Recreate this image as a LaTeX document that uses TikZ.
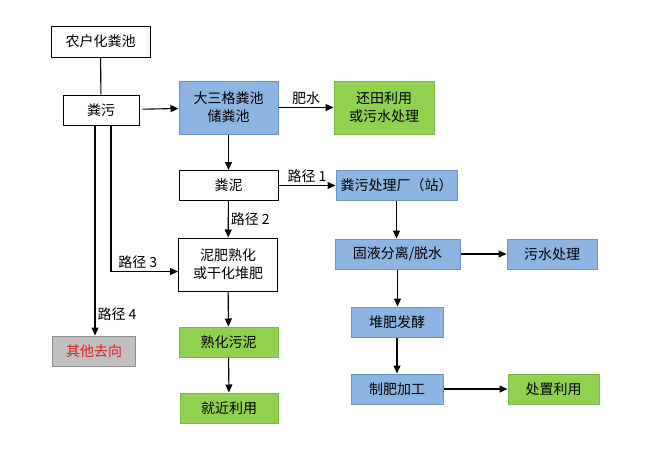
\documentclass[tikz,border=0pt]{standalone}
\usepackage{fontspec}
\setmainfont{Noto Sans CJK SC}
\usetikzlibrary{arrows.meta}
\definecolor{bluefill}{RGB}{142,180,226}
\definecolor{blueline}{RGB}{108,146,200}
\definecolor{greenfill}{RGB}{146,208,80}
\definecolor{greenline}{RGB}{122,186,66}
\definecolor{grayfill}{RGB}{192,192,192}
\definecolor{grayline}{RGB}{140,140,140}
\definecolor{redtext}{RGB}{224,30,30}
\tikzset{
  box/.style={draw, minimum height=30pt, inner sep=0pt, align=center, font=\fontsize{14}{18}\selectfont, line width=1pt},
  bluebox/.style={box, fill=bluefill, draw=blueline},
  greenbox/.style={box, fill=greenfill, draw=greenline},
  graybox/.style={box, fill=grayfill, draw=grayline, text=redtext},
  lbl/.style={font=\fontsize{14}{16}\selectfont, inner sep=2pt}
}
\begin{document}
\begin{tikzpicture}[x=1pt, y=-1pt, >={Triangle[length=8pt,width=7pt]}, line width=1.1pt]
\useasboundingbox (0,0) rectangle (656,453);

\node [box, minimum width=99pt, minimum height=31pt] (nh) at (100.5,41.5) {农户化粪池};
\node [box, minimum width=76pt] (fw) at (101,110) {粪污};
\node [bluebox, minimum width=99pt, minimum height=53pt] (dsg) at (228.5,107.5) {大三格粪池\\储粪池};
\node [greenbox, minimum width=100pt, minimum height=53pt] (ht) at (384,107.5) {还田利用\\或污水处理};
\node [box, minimum width=99pt] (fn) at (228.5,185.5) {粪泥};
\node [bluebox, minimum width=121pt] (clc) at (396.5,185.5) {粪污处理厂（站）};
\node [bluebox, minimum width=125pt] (gy) at (397.5,254) {固液分离/脱水};
\node [bluebox, minimum width=90pt] (ws) at (552,254) {污水处理};
\node [box, minimum width=99pt, minimum height=53pt] (nf) at (228,264.5) {泥肥熟化\\或干化堆肥};
\node [graybox, minimum width=83pt] (qt) at (94,351) {其他去向};
\node [greenbox, minimum width=99pt] (shwn) at (228.5,342) {熟化污泥};
\node [greenbox, minimum width=98pt] (jj) at (229,408) {就近利用};
\node [bluebox, minimum width=92pt] (df) at (397,322) {堆肥发酵};
\node [bluebox, minimum width=92pt] (zf) at (397,389) {制肥加工};
\node [greenbox, minimum width=91pt] (cz) at (553.5,389) {处置利用};

\draw (nh) -- (fw);
\draw [->, shorten <=3pt] (fw) -- (dsg);
\draw [->] (dsg) --node [lbl, above]{肥水} (ht);
\draw [->] (dsg) -- (fn);
\draw [->] (fn) --node [lbl, above]{路径 1} (clc);
\draw [->] (fn) --node [lbl, right]{路径 2} (nf);
\draw [->] ([xshift=10pt]fw.south) |-node [lbl, pos=.7, above]{路径 3} ([yshift=-7pt]nf.west);
\draw [->] ([xshift=-6pt]fw.south) --node [lbl, pos=.9, right]{路径 4} ([xshift=-6pt]fw.south |- qt.north);
\draw [->] (nf) -- (shwn);
\draw [->] (shwn) -- (jj);
\draw [->] (clc.south) -- (clc.south |- gy.north);
\draw [->] (gy) -- (ws);
\draw [->] (gy.south) -- (gy.south |- df.north);
\draw [->] (df) -- (zf);
\draw [->] (zf) -- (cz);
\end{tikzpicture}
\end{document}
